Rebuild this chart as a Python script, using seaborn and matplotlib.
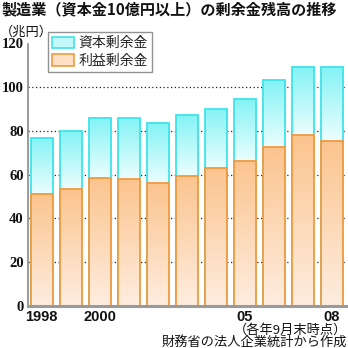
import numpy as np
import pandas as pd
import seaborn as sns
import matplotlib.pyplot as plt
from matplotlib.colors import LinearSegmentedColormap
from matplotlib.patches import Patch

# ---- data (trillion yen, end of September each year) ----
years = ['1998', '1999', '2000', '2001', '2002', '2003', '2004', '2005', '2006', '2007', '2008']
tick_labels = ['1998', '', '2000', '', '', '', '', '05', '', '', '08']
retained_surplus = [51.1, 53.7, 58.4, 58.0, 56.2, 59.5, 63.2, 66.5, 72.8, 78.3, 75.5]
capital_surplus = [25.8, 26.4, 27.4, 27.8, 27.4, 27.8, 27.0, 28.2, 30.4, 30.9, 33.7]
y_ticks = [0, 20, 40, 60, 80, 100, 120]

title = '製造業（資本金10億円以上）の剰余金残高の推移'
unit = '（兆円）'
legend_labels = ['資本剰余金', '利益剰余金']
note1 = '（各年9月末時点）'
note2 = '財務省の法人企業統計から作成'

sns.set_theme(style='white')
plt.rcParams['font.family'] = ['Noto Sans CJK JP', 'DejaVu Sans']

df = pd.DataFrame({
    'year': years,
    'retained': retained_surplus,
    'total': np.array(retained_surplus) + np.array(capital_surplus),
})

cyan_edge = '#3ee4ea'
orange_edge = '#f09a40'
cyan_cmap = LinearSegmentedColormap.from_list('c', ['#ecfefe', '#84f3f5'])
orange_cmap = LinearSegmentedColormap.from_list('o', ['#feede0', '#fbc48e'])

fig = plt.figure(figsize=(3.48, 3.48), dpi=100)
fig.patch.set_facecolor('white')
ax = fig.add_axes([0.0805, 0.1207, 0.917, 0.7543])

sns.barplot(data=df, x='year', y='total', order=years, color='#c0f8f8',
            width=0.76, saturation=1, ax=ax)
n0 = len(ax.patches)
sns.barplot(data=df, x='year', y='retained', order=years, color='#fde0c8',
            width=0.76, saturation=1, ax=ax)
cap_patches = ax.patches[:n0]
ret_patches = ax.patches[n0:]

grad = np.linspace(0, 1, 256).reshape(-1, 1)


def shade(p, lo, hi, cmap, edge, z):
    x0, w = p.get_x(), p.get_width()
    im = ax.imshow(grad, extent=(x0, x0 + w, lo, hi), origin='lower', cmap=cmap,
                   aspect='auto', zorder=z, interpolation='bilinear')
    im.set_clip_path(p)
    p.set_facecolor('none')
    p.set_edgecolor(edge)
    p.set_linewidth(1.3)
    p.set_zorder(z + 0.5)


for pc, pr in zip(cap_patches, ret_patches):
    shade(pc, pr.get_height(), pc.get_height(), cyan_cmap, cyan_edge, 2)
    shade(pr, 0, pr.get_height(), orange_cmap, orange_edge, 3)

ax.set_xlim(-0.472, 10.53)
ax.set_ylim(0, 120)
ax.set_yticks(y_ticks)
ax.set_xticks(range(len(years)))
ax.set_xticklabels(tick_labels)
ax.set_xlabel('')
ax.set_ylabel('')
ax.tick_params(length=0)
ax.tick_params(axis='x', pad=3)
ax.tick_params(axis='y', pad=3)
for lab in ax.get_yticklabels():
    lab.set_fontfamily('Liberation Serif')
    lab.set_fontweight('bold')
    lab.set_fontsize(10.5)
    lab.set_color('#111')
for lab in ax.get_xticklabels():
    lab.set_fontfamily('Liberation Sans')
    lab.set_fontweight('bold')
    lab.set_fontsize(10.5)
    lab.set_color('#111')

ax.set_axisbelow(True)
ax.yaxis.grid(True, linestyle=(0, (1, 2)), color='#222', linewidth=0.9)
ax.xaxis.grid(False)
gl = ax.get_ygridlines()
gl[0].set_visible(False)
gl[-1].set_visible(False)

for s in ['top', 'right']:
    ax.spines[s].set_visible(False)
ax.spines['left'].set_color('#8a8a8a')
ax.spines['left'].set_linewidth(1.2)
ax.spines['bottom'].set_color('#9a9a9a')
ax.spines['bottom'].set_linewidth(2.2)
ax.spines['bottom'].set_zorder(5)

handles = [Patch(facecolor='#c4f9f9', edgecolor=cyan_edge, linewidth=1.2),
           Patch(facecolor='#fde0c6', edgecolor=orange_edge, linewidth=1.2)]
leg = ax.legend(handles, legend_labels, loc='upper left', bbox_to_anchor=(0.062, 1.044),
                fontsize=10, frameon=True, fancybox=False, edgecolor='#777',
                handlelength=1.6, handleheight=0.9, handletextpad=0.3,
                borderpad=0.3, labelspacing=0.25, borderaxespad=0)
leg.get_frame().set_linewidth(1.0)
leg.set_zorder(10)

fig.text(0.003, 0.995, title, ha='left', va='top', fontsize=10.9, fontweight='bold', color='#111')
fig.text(0.0, 0.908, unit, ha='left', va='center', fontsize=9.5, color='#111')
fig.text(0.997, 0.052, note1, ha='right', va='center', fontsize=9.5, color='#111')
fig.text(0.997, 0.017, note2, ha='right', va='center', fontsize=9.5, color='#111')

fig.savefig('out.png', dpi=100, facecolor='white')
